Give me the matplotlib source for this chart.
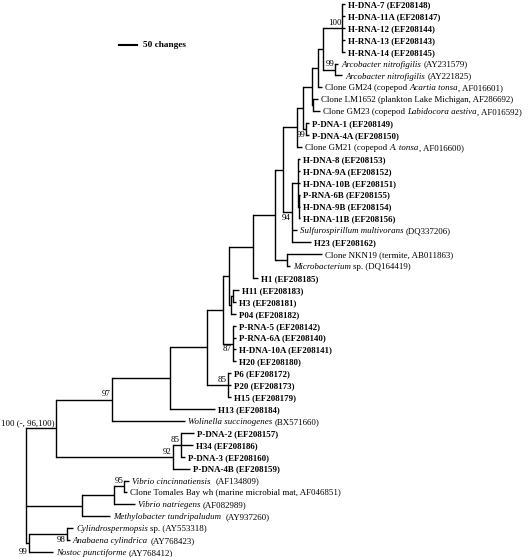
import matplotlib
matplotlib.use('Agg')
import matplotlib.pyplot as plt
from matplotlib.transforms import offset_copy

plt.rcParams['font.family'] = 'Liberation Serif'

# tree topology, branch lengths in changes, support values as node labels
newick = ("((((((((((((((((HDNA7:8,HDNA11A:8,HRNA12:8,HRNA13:8,HRNA14:8)100:53,"
          "(ARCO1:8,ARCO2:19)99:33):14,GM24:11):17,(LM1652:14,GM23:19):3):25,"
          "(PDNA1:8,PDNA4A:8)99:8):17,GM21:14):39,"
          "((HDNA8:6,HDNA9A:6,HDNA10B:6,(PRNA6B:3,HDNA9B:3,HDNA11B:3):3):17,SULF:14,H23:53)94:25):22,"
          "(NKN19:97,MICRO:8):33):61,H1:14):67,"
          "((H11:17,H3:6):6,P04:14):6):17,"
          "(PRNA5:8,PRNA6A:8,HDNA10A:8,H20:8)87:28):44,"
          "(P6:8,P20:8,H15:8)85:58):103,H13:125):161,WOLI:203)97:156,"
          "((PDNA2:36,H34:33,PDNA3:11)85:22,PDNA4B:47)92:325)EPS:83,"
          "(((VCIN:14,TOMA:8)95:28,VNAT:58):89,METH:78):156,"
          "((CYLI:17,ANAB:8)98:106,NOST:67)99:8);")

epsilon_support = '100 (-, 96,100)'

# *...* marks italic parts
leaf_labels = {
    'HDNA7': 'H-DNA-7 (EF208148)',
    'HDNA11A': 'H-DNA-11A (EF208147)',
    'HRNA12': 'H-RNA-12 (EF208144)',
    'HRNA13': 'H-RNA-13 (EF208143)',
    'HRNA14': 'H-RNA-14 (EF208145)',
    'ARCO1': '*Arcobacter nitrofigilis* (AY231579)',
    'ARCO2': '*Arcobacter nitrofigilis* (AY221825)',
    'GM24': 'Clone GM24 (copepod *Acartia tonsa*, AF016601)',
    'LM1652': 'Clone LM1652 (plankton Lake Michigan, AF286692)',
    'GM23': 'Clone GM23 (copepod *Labidocora aestiva*, AF016592)',
    'PDNA1': 'P-DNA-1 (EF208149)',
    'PDNA4A': 'P-DNA-4A (EF208150)',
    'GM21': 'Clone GM21 (copepod *A. tonsa*, AF016600)',
    'HDNA8': 'H-DNA-8 (EF208153)',
    'HDNA9A': 'H-DNA-9A (EF208152)',
    'HDNA10B': 'H-DNA-10B (EF208151)',
    'PRNA6B': 'P-RNA-6B (EF208155)',
    'HDNA9B': 'H-DNA-9B (EF208154)',
    'HDNA11B': 'H-DNA-11B (EF208156)',
    'SULF': '*Sulfurospirillum multivorans* (DQ337206)',
    'H23': 'H23 (EF208162)',
    'NKN19': 'Clone NKN19 (termite, AB011863)',
    'MICRO': '*Microbacterium* sp. (DQ164419)',
    'H1': 'H1 (EF208185)',
    'H11': 'H11 (EF208183)',
    'H3': 'H3 (EF208181)',
    'P04': 'P04 (EF208182)',
    'PRNA5': 'P-RNA-5 (EF208142)',
    'PRNA6A': 'P-RNA-6A (EF208140)',
    'HDNA10A': 'H-DNA-10A (EF208141)',
    'H20': 'H20 (EF208180)',
    'P6': 'P6 (EF208172)',
    'P20': 'P20 (EF208173)',
    'H15': 'H15 (EF208179)',
    'H13': 'H13 (EF208184)',
    'WOLI': '*Wolinella succinogenes* (BX571660)',
    'PDNA2': 'P-DNA-2 (EF208157)',
    'H34': 'H34 (EF208186)',
    'PDNA3': 'P-DNA-3 (EF208160)',
    'PDNA4B': 'P-DNA-4B (EF208159)',
    'VCIN': '*Vibrio cincinnatiensis*  (AF134809)',
    'TOMA': 'Clone Tomales Bay wh (marine microbial mat, AF046851)',
    'VNAT': '*Vibrio natriegens* (AF082989)',
    'METH': '*Methylobacter tundripaludum*  (AY937260)',
    'CYLI': '*Cylindrospermopsis* sp. (AY553318)',
    'ANAB': '*Anabaena cylindrica* (AY768423)',
    'NOST': '*Nostoc punctiforme* (AY768412)',
}

# clones from this study are printed in bold
bold_leaves = ['HDNA7', 'HDNA11A', 'HRNA12', 'HRNA13', 'HRNA14', 'PDNA1', 'PDNA4A',
               'HDNA8', 'HDNA9A', 'HDNA10B', 'PRNA6B', 'HDNA9B', 'HDNA11B', 'H23',
               'H1', 'H11', 'H3', 'P04', 'PRNA5', 'PRNA6A', 'HDNA10A', 'H20',
               'P6', 'P20', 'H15', 'H13', 'PDNA2', 'H34', 'PDNA3', 'PDNA4B']

# support values written below the branch / next to the last tip (first leaf of clade)
support_below = ['PDNA1', 'HDNA8', 'PRNA5']
support_at_tip = ['CYLI']

scale_changes = 50


def parse(s):
    pos = 0

    def node():
        nonlocal pos
        n = {'children': [], 'name': '', 'len': 0.0}
        if s[pos] == '(':
            pos += 1
            while True:
                n['children'].append(node())
                if s[pos] == ',':
                    pos += 1
                elif s[pos] == ')':
                    pos += 1
                    break
                else:
                    raise ValueError('bad newick at %d' % pos)
        start = pos
        while s[pos] not in ':,);':
            pos += 1
        n['name'] = s[start:pos]
        if s[pos] == ':':
            pos += 1
            start = pos
            while s[pos] not in ',);':
                pos += 1
            n['len'] = float(s[start:pos])
        return n

    return node()


tree = parse(newick)

leaves = []


def layout(n, x):
    n['x'] = x + n['len']
    if not n['children']:
        n['y'] = len(leaves)
        leaves.append(n)
    else:
        for c in n['children']:
            layout(c, n['x'])
        n['y'] = (n['children'][0]['y'] + n['children'][-1]['y']) / 2


layout(tree, 0)


def first_leaf(n):
    while n['children']:
        n = n['children'][0]
    return n['name']


px = 18 / 50.0  # pixels per change
x0 = 26.0
step = 11.913

fig = plt.figure(figsize=(5.28, 5.57), dpi=100)
ax = fig.add_axes([0, 0, 1, 1])
ax.set_xlim(-x0 / px, (528 - x0) / px)
ax.set_ylim((557 - 4) / step, -4 / step)
ax.axis('off')
renderer = fig.canvas.get_renderer()

lw = 1.0
fs = 6.4


def text_width(s, style, weight):
    t = ax.text(0, 0, s, fontsize=fs, fontstyle=style, fontweight=weight)
    w = t.get_window_extent(renderer).width * 72.0 / fig.dpi
    t.remove()
    return w


def advance(s, style, weight):
    # width of s as it advances the pen, spaces included, ink overhang ignored
    return text_width('|' + s + '|', style, weight) - text_width('||', style, weight)


def put_label(x, y, markup, weight):
    parts = markup.split('*')
    dx = 0.0
    for i, part in enumerate(parts):
        if not part:
            continue
        style = 'italic' if i % 2 == 1 else 'normal'
        lead = len(part) - len(part.lstrip(' '))
        body = part.strip(' ')
        off = advance(' ' * lead, style, weight) if lead else 0.0
        if body:
            tr = offset_copy(ax.transData, fig=fig, x=dx + off, y=-2.2, units='points')
            ax.text(x, y, body, transform=tr, fontsize=fs, fontstyle=style,
                    fontweight=weight, va='baseline', ha='left')
        dx += advance(part, style, weight)


def draw(n):
    if n['children']:
        ys = [c['y'] for c in n['children']]
        ax.plot([n['x'], n['x']], [min(ys), max(ys)], color='black', lw=lw,
                solid_capstyle='projecting')
        for c in n['children']:
            ax.plot([n['x'], c['x']], [c['y'], c['y']], color='black', lw=lw,
                    solid_capstyle='butt')
            draw(c)
    else:
        put_label(n['x'] + 3 / px, n['y'], leaf_labels[n['name']],
                  'bold' if n['name'] in bold_leaves else 'normal')


draw(tree)


def supports(n, parent=None):
    if n['children'] and parent is not None and n['name']:
        lab = n['name']
        if lab == 'EPS':
            lab = epsilon_support
        fl = first_leaf(n)
        if fl in support_at_tip:
            ax.text(n['x'] - 1 / px, n['children'][-1]['y'], lab, fontsize=fs,
                    ha='right', va='center')
        elif fl in support_below:
            ax.text(n['x'] - 1 / px, n['y'] + 0.12, lab, fontsize=fs,
                    ha='right', va='top')
        else:
            ax.text(n['x'] - 1 / px, n['y'] - 0.1, lab, fontsize=fs,
                    ha='right', va='bottom')
    for c in n['children']:
        supports(c, n)


supports(tree)

# scale bar
sx = (119 - x0) / px
sy = (45 - 4) / step
ax.plot([sx, sx + scale_changes], [sy, sy], color='black', lw=1.5)
ax.text(sx + scale_changes + 6 / px, sy, str(scale_changes) + ' changes',
        fontsize=fs + 0.3, fontweight='bold', va='center', ha='left')

fig.savefig('out.png', dpi=100)
